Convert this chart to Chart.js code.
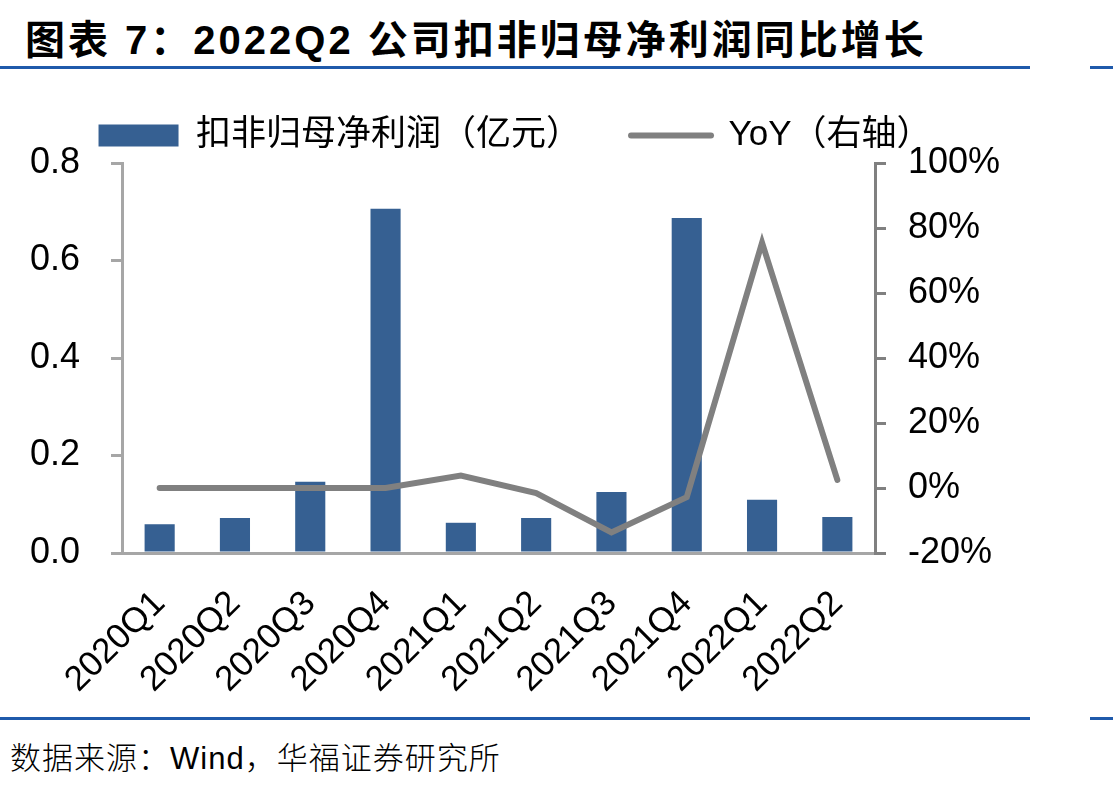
<!DOCTYPE html>
<html>
<head>
<meta charset="utf-8">
<script src="https://cdn.jsdelivr.net/npm/chart.js@4"></script>
<style>
  body { margin: 0; background: #fff; width: 1113px; height: 786px; position: relative; overflow: hidden; }
  .titulo { position: absolute; left: 25px; top: 8px; font: bold 40px "Liberation Sans", "Noto Sans CJK SC"; letter-spacing: 3px; color: #000; white-space: nowrap; }
  .regla { position: absolute; height: 3px; background: #1F5AAB; }
  .fuente { position: absolute; left: 10px; top: 733px; font: 300 31px "Liberation Sans", "Noto Sans CJK SC"; letter-spacing: 1px; color: #000; white-space: nowrap; }
  #miGrafico { position: absolute; left: 0; top: 68px; }
</style>
</head>
<body>
<div class="titulo">图表 7：2022Q2 公司扣非归母净利润同比增长</div>
<div class="regla" style="left:0; width:1030px; top:66px;"></div>
<div class="regla" style="left:1090px; width:23px; top:66px;"></div>
<canvas id="miGrafico" width="1030" height="647"></canvas>
<div class="regla" style="left:0; width:1030px; top:717px;"></div>
<div class="regla" style="left:1090px; width:23px; top:717px;"></div>
<div class="fuente">数据来源：Wind，华福证券研究所</div>

<script>
// Datos del gráfico
const trimestres = ['2020Q1', '2020Q2', '2020Q3', '2020Q4', '2021Q1', '2021Q2', '2021Q3', '2021Q4', '2022Q1', '2022Q2'];
const beneficio = [0.059, 0.072, 0.146, 0.706, 0.062, 0.072, 0.125, 0.687, 0.109, 0.074]; // 亿元
const yoy = [0, 0, 0, 0, 3.8, -1.6, -13.7, -2.8, 75.5, 2.5]; // %
const nombresSeries = ['扣非归母净利润（亿元）', 'YoY（右轴）'];
const ticksIzq = [0, 0.2, 0.4, 0.6, 0.8];
const ticksDer = [-20, 0, 20, 40, 60, 80, 100];

const azul = '#366092';
const gris = '#808080';
const fuente = '"Liberation Sans", "Noto Sans CJK SC"';

const ctx = document.getElementById('miGrafico').getContext('2d');

new Chart(ctx, {
    type: 'bar',
    data: {
        labels: trimestres,
        datasets: [{
            label: nombresSeries[0],
            data: beneficio,
            backgroundColor: azul,
            barPercentage: 0.4,
            categoryPercentage: 1,
            yAxisID: 'y',
            order: 1
        }, {
            type: 'line',
            label: nombresSeries[1],
            data: yoy,
            borderColor: gris,
            borderWidth: 6,
            borderCapStyle: 'round',
            pointRadius: 0,
            tension: 0,
            yAxisID: 'y1',
            order: 0
        }]
    },
    options: {
        responsive: false,
        animation: false,
        layout: { padding: 0 },
        plugins: {
            tooltip: { enabled: false },
            legend: {
                position: 'top',
                labels: {
                    font: { family: fuente, size: 35 },
                    color: '#000',
                    usePointStyle: true,
                    pointStyleWidth: 80,
                    boxHeight: 22,
                    padding: 50,
                    generateLabels: () => [
                        { text: nombresSeries[0], fillStyle: azul, strokeStyle: azul, lineWidth: 0, pointStyle: 'rect', datasetIndex: 0 },
                        { text: nombresSeries[1], fillStyle: gris, strokeStyle: gris, lineWidth: 6, lineCap: 'round', pointStyle: 'line', datasetIndex: 1 }
                    ]
                }
            }
        },
        scales: {
            x: {
                grid: { display: false },
                border: { display: true, color: '#A6A6A6', width: 3 },
                ticks: {
                    font: { family: fuente, size: 35 },
                    color: '#000',
                    minRotation: 45,
                    maxRotation: 45,
                    padding: 22
                },
                afterFit: (s) => { s.height = 162; }
            },
            y: {
                position: 'left',
                min: 0,
                max: 0.8,
                afterBuildTicks: (s) => { s.ticks = ticksIzq.map(v => ({ value: v })); },
                grid: { drawOnChartArea: false, color: '#A6A6A6', lineWidth: 3, tickLength: 11 },
                border: { color: '#A6A6A6', width: 3 },
                ticks: {
                    font: { family: fuente, size: 36 },
                    color: '#000',
                    padding: 31,
                    callback: (v) => v.toFixed(1)
                },
                afterFit: (s) => { s.width = 122; }
            },
            y1: {
                position: 'right',
                min: -20,
                max: 100,
                afterBuildTicks: (s) => { s.ticks = ticksDer.map(v => ({ value: v })); },
                grid: { drawOnChartArea: false, color: gris, lineWidth: 3, tickLength: 11 },
                border: { color: gris, width: 3 },
                ticks: {
                    font: { family: fuente, size: 36 },
                    color: '#000',
                    padding: 22,
                    callback: (v) => v + '%'
                },
                afterFit: (s) => { s.width = 155; }
            }
        }
    }
});
</script>
</body>
</html>
